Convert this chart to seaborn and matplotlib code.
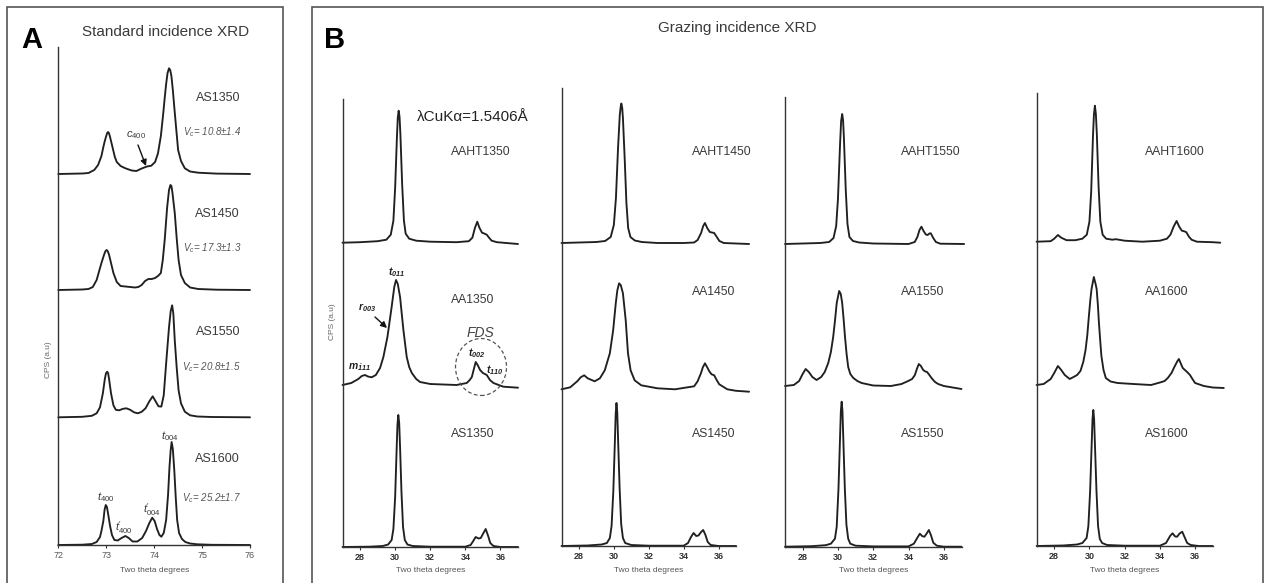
import numpy as np
import pandas as pd
import matplotlib
matplotlib.use("Agg")
import matplotlib.pyplot as plt
import seaborn as sns
from matplotlib.patches import Rectangle, Ellipse

# ---------------------------------------------------------------- data
# Panel A : standard incidence XRD (two theta [deg], intensity [a.u.])
A_AS1350_x = [72.0, 72.5, 72.63, 72.75, 72.83, 72.9, 72.94, 72.97, 73.0, 73.02, 73.04, 73.06, 73.08, 73.11, 73.13, 73.18, 73.22, 73.3, 73.4, 73.53, 73.63, 73.74, 73.85, 73.94, 74.02, 74.08, 74.14, 74.19, 74.22, 74.25, 74.28, 74.31, 74.335, 74.36, 74.39, 74.42, 74.47, 74.5, 74.56, 74.64, 74.75, 74.92, 75.3, 76.0]
A_AS1350_y = [0, 0.5, 1, 4, 9, 18, 27, 33, 38, 41, 42, 40.5, 37, 31, 27, 17, 12, 8, 5.7, 3.5, 3, 5.5, 7.5, 8.3, 12, 20.7, 38, 60.7, 76, 90, 101, 105.7, 104, 98, 84, 67, 40, 24, 13, 5.7, 2.5, 1.3, 0.4, 0]
A_AS1450_x = [72.0, 72.5, 72.63, 72.72, 72.8, 72.9, 72.96, 72.985, 73.01, 73.035, 73.06, 73.1, 73.15, 73.22, 73.3, 73.4, 73.5, 73.6, 73.67, 73.74, 73.81, 73.88, 73.95, 74.02, 74.08, 74.14, 74.18, 74.22, 74.27, 74.31, 74.34, 74.36, 74.38, 74.43, 74.47, 74.51, 74.56, 74.64, 74.75, 74.92, 75.3, 76.0]
A_AS1450_y = [0, 0.5, 1, 3, 10, 27, 36, 39, 40, 38.5, 35, 27, 17, 8, 4, 3.5, 3, 2.5, 3, 5, 9, 11, 11, 12, 14, 17, 30, 50, 82, 100, 105, 104, 98, 77, 52, 30, 15, 7, 2.5, 1, 0.3, 0]
A_AS1550_x = [72.0, 72.5, 72.7, 72.8, 72.87, 72.93, 72.97, 72.995, 73.02, 73.04, 73.06, 73.1, 73.15, 73.2, 73.27, 73.35, 73.42, 73.5, 73.58, 73.66, 73.74, 73.82, 73.9, 73.97, 74.03, 74.09, 74.15, 74.2, 74.26, 74.31, 74.345, 74.375, 74.4, 74.43, 74.47, 74.51, 74.56, 74.64, 74.75, 74.9, 75.2, 76.0]
A_AS1550_y = [0, 0.5, 1.5, 4, 10, 24, 38, 44, 45.6, 44, 38, 24, 12, 7.5, 7, 8.5, 9, 7.5, 5, 4, 5.5, 9, 16, 21, 16, 11, 10.7, 22, 60, 90, 106, 112, 104, 77, 50, 27, 14, 5.6, 2, 0.8, 0.3, 0]
A_AS1600_x = [72.0, 72.5, 72.7, 72.8, 72.87, 72.9, 72.94, 72.965, 72.99, 73.015, 73.04, 73.08, 73.12, 73.17, 73.24, 73.32, 73.4, 73.47, 73.55, 73.65, 73.75, 73.83, 73.9, 73.96, 74.01, 74.06, 74.11, 74.15, 74.2, 74.25, 74.29, 74.32, 74.345, 74.365, 74.39, 74.42, 74.45, 74.48, 74.52, 74.58, 74.65, 74.75, 74.9, 75.2, 76.0]
A_AS1600_y = [0, 0.3, 1, 3, 8, 14, 24, 35, 40, 38, 31, 19, 10, 5, 4.5, 7, 9, 7, 3.5, 3.5, 7, 14, 22, 27.3, 24, 16, 10, 8.3, 12, 25, 50, 78, 95, 103, 96, 75, 48, 25, 12, 6, 3, 1.5, 0.7, 0.2, 0]

A_SAMPLES = ["AS1350", "AS1450", "AS1550", "AS1600"]
A_VC = ["10.8±1.4", "17.3±1.3", "20.8±1.5", "25.2±1.7"]
A_TICKS = [72, 73, 74, 75, 76]

# Panel B : grazing incidence XRD
B_AAHT1350_x = [27.0, 28.0, 29.0, 29.5, 29.75, 29.9, 30.0, 30.1, 30.15, 30.2, 30.25, 30.3, 30.4, 30.5, 30.6, 30.8, 31.2, 32.0, 33.5, 34.2, 34.4, 34.55, 34.68, 34.8, 34.95, 35.1, 35.22, 35.35, 35.5, 35.8, 37.0]
B_AAHT1350_y = [0, 0.5, 1.5, 3, 8, 22, 55, 105, 125, 132, 126, 108, 58, 22, 9, 4, 2, 1, 0.5, 1.5, 5, 15, 21, 15, 10, 9, 8, 5, 2, 0.5, -1.3]
B_AA1350_x = [27.0, 27.5, 27.9, 28.1, 28.28, 28.45, 28.66, 28.9, 29.14, 29.33, 29.56, 29.8, 29.95, 30.05, 30.15, 30.28, 30.47, 30.66, 30.8, 30.95, 31.2, 31.42, 32.0, 33.5, 34.08, 34.25, 34.37, 34.5, 34.59, 34.7, 34.84, 35.0, 35.22, 35.4, 35.6, 35.9, 36.17, 37.0]
B_AA1350_y = [0, 2, 6, 9, 10, 8.5, 7.7, 10, 17, 28, 48, 78, 98, 105, 101, 88, 55, 28, 18, 12, 6, 3, 1, 0, 2, 5, 8, 17, 23, 20, 15, 12, 10, 5, 2, 0, -1.7, -2.7]
B_AS1350_x = [27.0, 28.5, 29.3, 29.6, 29.8, 29.9, 30.0, 30.08, 30.13, 30.18, 30.23, 30.28, 30.36, 30.45, 30.55, 30.7, 31.0, 32.0, 34.0, 34.3, 34.45, 34.59, 34.75, 34.88, 35.0, 35.16, 35.3, 35.42, 35.6, 36.0, 37.0]
B_AS1350_y = [0, 0.3, 1, 2.5, 7, 18, 50, 95, 122, 132, 124, 100, 55, 20, 7, 2.5, 1, 0.3, 0.3, 2, 6, 10, 8.5, 9, 13, 18, 11, 4, 1, 0, 0]

B_AAHT1450_x = [27.0, 28.0, 29.0, 29.5, 29.82, 30.0, 30.12, 30.24, 30.34, 30.39, 30.43, 30.48, 30.52, 30.62, 30.72, 30.82, 30.95, 31.2, 31.6, 32.5, 34.0, 34.6, 34.8, 35.0, 35.12, 35.22, 35.35, 35.5, 35.62, 35.75, 35.9, 36.05, 36.3, 37.0, 37.75]
B_AAHT1450_y = [0, 0.5, 1, 2, 6, 18, 45, 95, 128, 136, 139.5, 135, 125, 85, 40, 15, 6, 2.5, 1, 0, 0, 0.5, 3, 10, 17, 20, 15, 11, 10.5, 10, 6, 2, 0, -0.5, -1]
B_AA1450_x = [27.0, 27.5, 27.9, 28.1, 28.3, 28.5, 28.9, 29.2, 29.48, 29.77, 29.96, 30.11, 30.2, 30.3, 30.4, 30.52, 30.68, 30.81, 30.96, 31.19, 31.57, 32.5, 33.5, 34.23, 34.6, 34.8, 34.99, 35.1, 35.22, 35.35, 35.47, 35.6, 35.75, 35.9, 36.04, 36.5, 37.0, 37.75]
B_AA1450_y = [0, 2, 8, 12, 14, 11, 8, 11, 19, 36, 59, 86, 99, 106, 104, 96, 69, 36, 19, 9, 4, 1, 0, 2, 3, 8, 16, 22, 26, 22, 18, 15, 14, 9, 5, 0, -1.5, -2.4]
B_AS1450_x = [27.0, 28.5, 29.3, 29.6, 29.77, 29.87, 29.97, 30.06, 30.105, 30.15, 30.195, 30.24, 30.33, 30.42, 30.52, 30.65, 31.0, 32.0, 34.0, 34.25, 34.42, 34.57, 34.72, 34.85, 35.0, 35.12, 35.25, 35.38, 35.55, 36.0, 37.0]
B_AS1450_y = [0, 0.5, 1.5, 3, 8, 20, 55, 105, 132, 143, 134, 108, 58, 22, 8, 3, 1, 0.3, 0.3, 3, 9, 13, 10, 10.5, 14, 16, 11, 4, 1, 0, 0]

B_AAHT1550_x = [27.0, 28.0, 29.0, 29.5, 29.75, 29.9, 30.0, 30.12, 30.18, 30.24, 30.29, 30.34, 30.44, 30.54, 30.65, 30.85, 31.2, 32.0, 34.0, 34.35, 34.5, 34.62, 34.73, 34.85, 34.98, 35.08, 35.18, 35.26, 35.4, 35.55, 35.8, 37.15]
B_AAHT1550_y = [0, 0.5, 1, 2, 6, 18, 45, 100, 123, 130, 124, 105, 55, 20, 7, 3, 1.5, 0.5, 0, 2, 7, 14, 17.3, 13, 9.5, 9, 10.5, 10.7, 6, 2, 0.3, 0]
B_AA1550_x = [27.0, 27.5, 27.8, 28.0, 28.17, 28.35, 28.55, 28.79, 29.05, 29.25, 29.45, 29.6, 29.73, 29.83, 29.93, 30.07, 30.16, 30.24, 30.32, 30.4, 30.49, 30.58, 30.7, 30.87, 31.1, 31.34, 32.0, 33.0, 33.6, 33.98, 34.2, 34.36, 34.47, 34.58, 34.7, 34.83, 34.95, 35.05, 35.18, 35.3, 35.5, 35.68, 36.0, 36.5, 37.0]
B_AA1550_y = [0, 1, 5, 12, 17, 14, 9, 6, 9, 14, 23, 34, 49, 65, 83, 95, 92, 83, 67, 49, 32, 19, 12, 8, 5, 3, 0.5, 0, 2, 5, 7, 11, 17, 22, 20, 16, 14.5, 14, 11, 8, 4, 2, 0, -1.5, -3]
B_AS1550_x = [27.0, 28.5, 29.3, 29.6, 29.83, 29.93, 30.03, 30.12, 30.165, 30.21, 30.255, 30.3, 30.39, 30.48, 30.58, 30.7, 31.0, 32.0, 34.0, 34.3, 34.5, 34.64, 34.78, 34.9, 35.02, 35.15, 35.28, 35.4, 35.6, 36.0, 37.0]
B_AS1550_y = [0, 0.5, 1.5, 3, 8, 20, 58, 110, 136, 145, 136, 110, 58, 22, 8, 3, 1, 0.3, 0.3, 3, 9, 13, 10.5, 10, 13, 16.7, 11, 4, 1, 0, 0]

B_AAHT1600_x = [27.0, 27.8, 28.0, 28.21, 28.4, 28.7, 29.2, 29.6, 29.85, 30.0, 30.1, 30.2, 30.255, 30.31, 30.365, 30.42, 30.52, 30.62, 30.75, 30.95, 31.3, 31.5, 32.0, 33.0, 34.0, 34.4, 34.6, 34.78, 34.95, 35.1, 35.25, 35.4, 35.5, 35.65, 35.8, 36.1, 37.0, 37.43]
B_AAHT1600_y = [0, 0.5, 3, 6.7, 4, 1.5, 1.5, 3, 7, 20, 50, 105, 127, 136, 128, 108, 55, 20, 7, 3, 2, 2.5, 1, 0, 1, 3, 7, 15, 20.7, 15, 11, 10.3, 9.5, 5, 2, 0, -0.5, -1]
B_AA1600_x = [27.0, 27.4, 27.8, 28.0, 28.21, 28.4, 28.6, 28.88, 29.1, 29.3, 29.49, 29.65, 29.78, 29.88, 29.97, 30.05, 30.12, 30.25, 30.35, 30.41, 30.48, 30.54, 30.61, 30.68, 30.8, 30.93, 31.2, 31.6, 32.5, 33.5, 33.9, 34.1, 34.27, 34.45, 34.66, 34.85, 35.0, 35.08, 35.2, 35.3, 35.42, 35.55, 35.71, 35.85, 36.0, 36.5, 37.0, 37.63]
B_AA1600_y = [0, 1, 6, 12, 19, 15, 10, 6, 8, 10, 14, 23, 35, 50, 69, 85, 96, 108, 101, 96, 80, 62, 45, 29, 15, 7, 3.5, 2, 1, 0, 2, 3, 4, 7, 12, 19, 24, 26, 21, 17, 15, 13, 10, 6, 2, -1, -2.5, -3]
B_AS1600_x = [27.0, 28.5, 29.3, 29.6, 29.84, 29.94, 30.04, 30.13, 30.175, 30.22, 30.265, 30.31, 30.4, 30.49, 30.59, 30.72, 31.0, 32.0, 34.0, 34.35, 34.58, 34.72, 34.87, 34.98, 35.12, 35.27, 35.4, 35.55, 35.75, 36.2, 37.0]
B_AS1600_y = [0, 0.5, 1.5, 3, 8, 20, 55, 103, 127, 136, 127, 103, 55, 20, 7, 3, 1, 0.3, 0.3, 3, 10, 12.7, 9.5, 9.3, 12.5, 14.3, 9, 3, 1, 0, 0]

B_TEMPS = ["1350", "1450", "1550", "1600"]
B_ROWS = ["AAHT", "AA", "AS"]
B_TICKS = [28, 30, 32, 34, 36]

A_CURVES = [(A_AS1350_x, A_AS1350_y), (A_AS1450_x, A_AS1450_y),
            (A_AS1550_x, A_AS1550_y), (A_AS1600_x, A_AS1600_y)]
B_CURVES = {
    "1350": [(B_AAHT1350_x, B_AAHT1350_y), (B_AA1350_x, B_AA1350_y), (B_AS1350_x, B_AS1350_y)],
    "1450": [(B_AAHT1450_x, B_AAHT1450_y), (B_AA1450_x, B_AA1450_y), (B_AS1450_x, B_AS1450_y)],
    "1550": [(B_AAHT1550_x, B_AAHT1550_y), (B_AA1550_x, B_AA1550_y), (B_AS1550_x, B_AS1550_y)],
    "1600": [(B_AAHT1600_x, B_AAHT1600_y), (B_AA1600_x, B_AA1600_y), (B_AS1600_x, B_AS1600_y)],
}

# ---------------------------------------------------------------- layout (pixels)
W, H = 1269, 583
A_BOX = (58.3, 250, 47, 545)                 # left, right, top, bottom
A_OFFSETS = [371, 255, 127.7, 0]
B_BOXES = [(342.5, 518, 99, 547), (561.5, 736, 88, 546),
           (785, 961.5, 97, 546.7), (1036.6, 1212.7, 93, 546)]
B_OFFSETS = [(304.3, 162, 0), (303, 156.7, 0), (302.7, 160.7, 0), (304.3, 161, 0)]
B_LABEL_X = [451, 692, 900.7, 1145]
B_LABEL_Y = [(152, 300, 434), (152, 292, 434), (152, 292, 434), (152, 292, 434)]

LINE = "#202020"
TXT = "#3a3a3a"

sns.set_theme(style="ticks")
plt.rcParams["font.family"] = ["Liberation Sans", "DejaVu Sans"]
plt.rcParams["mathtext.fontset"] = "custom"
plt.rcParams["mathtext.rm"] = "Liberation Sans"
plt.rcParams["mathtext.it"] = "Liberation Sans:italic"
plt.rcParams["mathtext.bf"] = "Liberation Sans:bold"
plt.rcParams["mathtext.bfit"] = "Liberation Sans:italic:bold"

fig = plt.figure(figsize=(W / 100, H / 100), dpi=100)
fig.patch.set_facecolor("white")


def add_ax(box):
    l, r, t, b = box
    return fig.add_axes([l / W, 1 - b / H, (r - l) / W, (b - t) / H])


def ftext(x, y, s, **kw):
    kw.setdefault("va", "center")
    kw.setdefault("color", TXT)
    fig.text(x / W, 1 - y / H, s, **kw)


def farrow(x1, y1, x2, y2, ax):
    ax.annotate("", xy=(x2 / W, 1 - y2 / H), xytext=(x1 / W, 1 - y1 / H),
                xycoords="figure fraction", textcoords="figure fraction",
                arrowprops=dict(arrowstyle="-|>", color="#111111", lw=1.0,
                                mutation_scale=9, shrinkA=0, shrinkB=0))


def style_ax(ax, xlim, ticks, ylim, bold):
    ax.set_xlim(*xlim)
    ax.set_ylim(0, ylim)
    ax.set_xticks(ticks)
    ax.set_xticklabels([str(t) for t in ticks], fontsize=6.5,
                       fontweight="bold" if bold else "normal",
                       color="#333333" if bold else "#555555")
    ax.set_yticks([])
    ax.set_xlabel("")
    ax.set_ylabel("")
    ax.set_facecolor("none")
    for s in ("top", "right"):
        ax.spines[s].set_visible(False)
    for s in ("left", "bottom"):
        ax.spines[s].set_color("#333333")
        ax.spines[s].set_linewidth(1.0)
    ax.tick_params(axis="x", length=2.5, width=0.8, pad=2, color="#333333")


def draw(ax, x, y, off):
    df = pd.DataFrame({"two_theta": x, "cps": np.asarray(y, float) + off})
    sns.lineplot(data=df, x="two_theta", y="cps", ax=ax, color=LINE, lw=1.35,
                 estimator=None, sort=False, clip_on=False)


# ---------------------------------------------------------------- panel frames
fig.add_artist(Rectangle((7 / W, -0.05), (283 - 7) / W, 1 - 7 / H + 0.05,
                         transform=fig.transFigure, fill=False, ec="#555555", lw=1.2))
fig.add_artist(Rectangle((312 / W, -0.05), (1263 - 312) / W, 1 - 7 / H + 0.05,
                         transform=fig.transFigure, fill=False, ec="#555555", lw=1.2))

# ---------------------------------------------------------------- panel A
axA = add_ax(A_BOX)
for (x, y), off in zip(A_CURVES, A_OFFSETS):
    draw(axA, x, y, off)
style_ax(axA, (72, 76), A_TICKS, A_BOX[3] - A_BOX[2], False)

ftext(32, 40, "A", fontsize=21, fontweight="bold", color="black", ha="center")
ftext(166, 32, "Standard incidence XRD", fontsize=11, ha="center")
A_LAB_Y = [98, 214, 332, 459]
A_VC_Y = [132, 248, 367, 498]
for s, vc, ly, vy in zip(A_SAMPLES, A_VC, A_LAB_Y, A_VC_Y):
    ftext(240, ly, s, fontsize=9, ha="right")
    ftext(241, vy, r"$V_c$= " + vc, fontsize=7, ha="right", style="italic", color="#555555")
ftext(136, 135, r"$c_{400}$", fontsize=8, ha="center")
farrow(138, 145, 146, 166, axA)
ftext(106, 497, r"$t_{400}$", fontsize=8, ha="center")
ftext(124, 528, r"$t^{\prime}_{400}$", fontsize=8, ha="center")
ftext(152, 510, r"$t^{\prime}_{004}$", fontsize=8, ha="center")
ftext(170, 436, r"$t_{004}$", fontsize=8, ha="center")
ftext(49, 360, "CPS (a.u)", fontsize=6, rotation=90, ha="center", color="#666666")
ftext((A_BOX[0] + A_BOX[1]) / 2, 570, "Two theta degrees", fontsize=6, ha="center", color="#555555")

# ---------------------------------------------------------------- panel B
ftext(335, 40, "B", fontsize=21, fontweight="bold", color="black", ha="center")
ftext(737, 28, "Grazing incidence XRD", fontsize=11, ha="center")

axB1 = None
for ci, temp in enumerate(B_TEMPS):
    box = B_BOXES[ci]
    ax = add_ax(box)
    for (x, y), off in zip(B_CURVES[temp], B_OFFSETS[ci]):
        draw(ax, x, y, off)
    style_ax(ax, (27, 37), B_TICKS, box[3] - box[2], True)
    for row, ly in zip(B_ROWS, B_LABEL_Y[ci]):
        ftext(B_LABEL_X[ci], ly, row + temp, fontsize=8.8, ha="left")
    ftext((box[0] + box[1]) / 2, 571, "Two theta degrees", fontsize=6, ha="center", color="#555555")
    if ci == 0:
        axB1 = ax

ftext(417, 117, "λCuKα=1.5406Å", fontsize=11, ha="left", color="#222222")
ftext(333, 322, "CPS (a.u)", fontsize=6, rotation=90, ha="center", color="#666666")
ftext(397, 272, r"$\mathbfit{t}_{\mathbfit{011}}$", fontsize=7.5, ha="center", color="#222222")
ftext(367, 308, r"$\mathbfit{r}_{\mathbfit{003}}$", fontsize=7.5, ha="center", color="#222222")
farrow(375, 317, 387, 328, axB1)
ftext(360, 367, r"$\mathbfit{m}_{\bar{\mathbfit{1}}\mathbfit{11}}$", fontsize=7.5, ha="center", color="#222222")
ftext(480, 333, "FDS", fontsize=10, ha="center", style="italic", color="#444444")
ftext(477, 353, r"$\mathbfit{t}_{\mathbfit{002}}$", fontsize=7.5, ha="center", color="#222222")
ftext(495, 370, r"$\mathbfit{t}_{\mathbfit{110}}$", fontsize=7.5, ha="center", color="#222222")
fig.add_artist(Ellipse((481 / W, 1 - 367 / H), 51 / W, 57 / H, transform=fig.transFigure,
                       fill=False, ec="#555555", lw=0.9, ls=(0, (3, 2))))

fig.savefig("out.png", dpi=100, facecolor="white")
